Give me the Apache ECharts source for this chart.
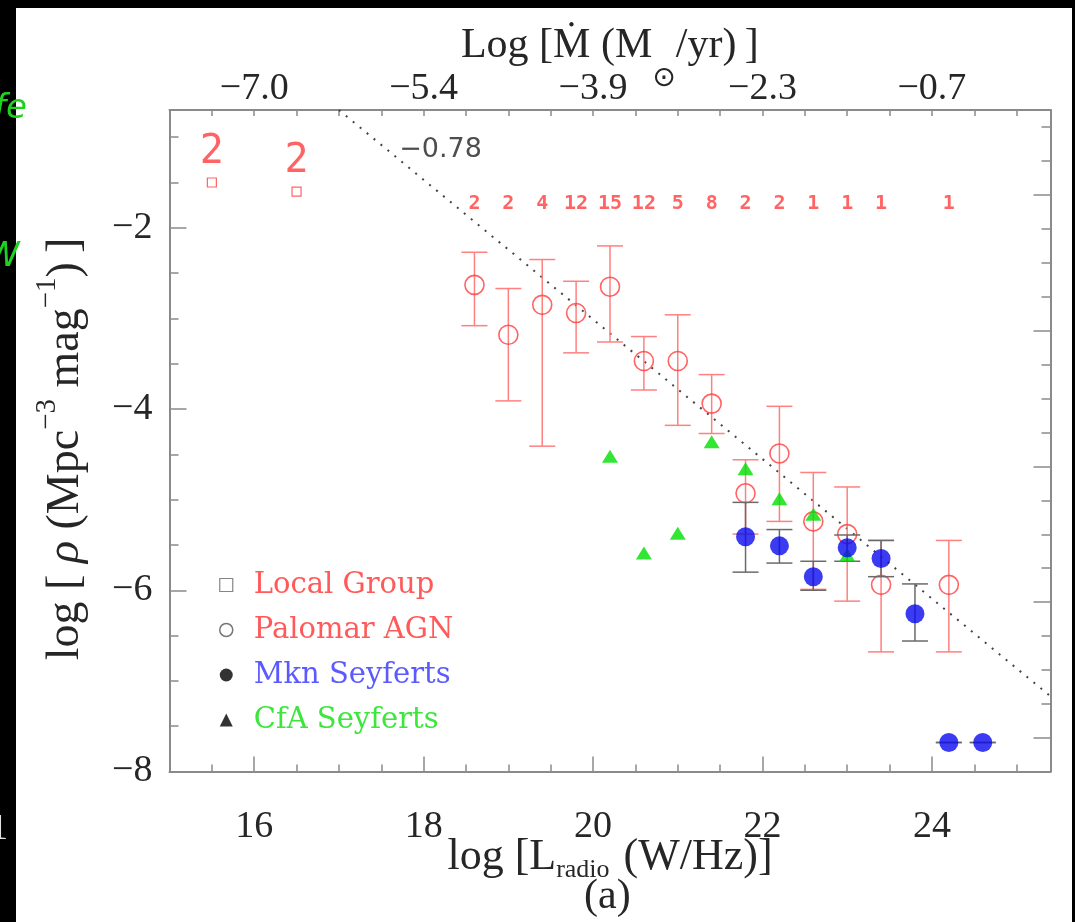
<!DOCTYPE html>
<html><head><meta charset="utf-8">
<script src="https://cdn.jsdelivr.net/npm/echarts@6/dist/echarts.min.js"></script>
<style>html,body{margin:0;padding:0;background:#000;}#c{width:1075px;height:922px;}</style>
</head><body><div id="c"></div>
<script>
// ---------- data ----------
const localX = [15.5, 16.5];
const localY = [-1.50, -1.60];
const localN = [2, 2];

const palomarX  = [18.6, 19.0, 19.4, 19.8, 20.2, 20.6, 21.0, 21.4, 21.8, 22.2, 22.6, 23.0, 23.4, 24.2];
const palomarY  = [-2.63, -3.18, -2.85, -2.94, -2.65, -3.47, -3.47, -3.94, -4.93, -4.49, -5.24, -5.38, -5.94, -5.94];
const palomarLo = [-3.08, -3.91, -4.41, -3.38, -3.26, -3.79, -4.18, -4.27, -5.38, -5.24, -5.99, -6.12, -6.68, -6.68];
const palomarHi = [-2.27, -2.67, -2.35, -2.59, -2.20, -3.20, -2.96, -3.62, -4.56, -3.97, -4.70, -4.86, -5.45, -5.45];
const palomarN  = [2, 2, 4, 12, 15, 12, 5, 8, 2, 2, 1, 1, 1, 1];

const mknX  = [21.8, 22.2, 22.6, 23.0, 23.4, 23.8, 24.2, 24.6];
const mknY  = [-5.41, -5.51, -5.85, -5.53, -5.65, -6.26, -7.68, -7.68];
const mknLo = [-5.80, -5.70, -6.00, -5.68, -5.85, -6.56, -7.68, -7.68];
const mknHi = [-5.03, -5.33, -5.68, -5.39, -5.45, -5.93, -7.68, -7.68];

const cfaX = [20.2, 20.6, 21.0, 21.4, 21.8, 22.2, 22.6, 23.0];
const cfaY = [-4.52, -5.59, -5.37, -4.36, -4.66, -4.99, -5.16, -5.61];

const fitX = [17.0, 25.4];
const fitY = [-0.70, -7.17];
const fitSlopeText = '\u22120.78';
const slopeLabelX = 18.2, slopeLabelY = -1.14;
const countRowY = -1.73;

// tick labels
const bottomTicks = [16, 18, 20, 22, 24];
const topTickLabels = ['\u22127.0', '\u22125.4', '\u22123.9', '\u22122.3', '\u22120.7'];
const leftTicks = [-8, -6, -4, -2];
const leftTickLabels = ['\u22128', '\u22126', '\u22124', '\u22122'];
// right-hand frame ticks (unlabelled secondary scale)
const rightTickStart = -7.632, rightTickStep = 0.375;

// ---------- helpers ----------
const X_MIN = 15, X_MAX = 25.4, Y_MIN = -8, Y_MAX = -0.7;
const rightMinor = [], rightMajor = [];
for (let k = 0; rightTickStart + k * rightTickStep <= Y_MAX; k++) {
  const v = +(rightTickStart + k * rightTickStep).toFixed(4);
  (k % 4 === 0 ? rightMajor : rightMinor).push(v);
}
const zip = (...arrs) => arrs[0].map((_, i) => arrs.map(a => a[i]));

const axisGray = '#8a8a8a';
const txt = '#262626';
const serif = 'Liberation Serif';
const RED = '#ff3c3c', RED_BAR = '#ff8080', RED_TXT = '#ff5a5a';
const BLUE = '#0a0aee', BLUE_TXT = '#5a5aff';
const GREEN = '#00e000', GREEN_TXT = '#3ce63c';
const BAR_BLACK = '#6a6a6a';

function errorBars(color, capHalf, width) {
  return function (params, api) {
    const x = api.value(0), lo = api.value(1), hi = api.value(2);
    const a = api.coord([x, hi]), b = api.coord([x, lo]);
    const st = { stroke: color, lineWidth: width };
    return { type: 'group', children: [
      { type: 'line', shape: { x1: a[0], y1: a[1], x2: b[0], y2: b[1] }, style: st },
      { type: 'line', shape: { x1: a[0] - capHalf, y1: a[1], x2: a[0] + capHalf, y2: a[1] }, style: st },
      { type: 'line', shape: { x1: b[0] - capHalf, y1: b[1], x2: b[0] + capHalf, y2: b[1] }, style: st }
    ]};
  };
}

const chart = echarts.init(document.getElementById('c'));
const tickLbl = { fontFamily: serif, fontSize: 38, color: txt };
const NAME_FS = 44;

const option = {
  backgroundColor: '#000',
  animation: false,
  graphic: [
    { type: 'rect', z: -10, shape: { x: 16, y: 8, width: 1056, height: 914 }, style: { fill: '#fff' } },
    { type: 'text', z: -9, left: -6, top: 92, style: { text: 'fe', fill: '#1fd21f', font: 'italic 34px DejaVu Sans' } },
    { type: 'text', z: -9, left: -14, top: 240, style: { text: 'W', fill: '#1fd21f', font: 'italic 34px DejaVu Sans' } },
    { type: 'text', z: -9, left: -10, top: 812, style: { text: '1', fill: '#e0e0e0', font: '36px Liberation Serif' } },
    { type: 'text', left: 584, top: 876, style: { text: '(a)', fill: txt, font: '42px Liberation Serif' } }
  ],
  grid: { left: 169.5, right: 24.5, top: 110, bottom: 150.5, containLabel: false, outerBoundsMode: 'none' },
  legend: {
    orient: 'vertical', left: 214, top: 564, itemWidth: 13, itemHeight: 13, itemGap: 13,
    selectedMode: false,
    textStyle: { fontFamily: 'DejaVu Serif', fontSize: 29, lineHeight: 32, padding: [0, 0, 0, 16] },
    data: [
      { name: 'Local Group', icon: 'rect', itemStyle: { color: '#fff', borderColor: '#666', borderWidth: 1.2 }, textStyle: { color: RED_TXT } },
      { name: 'Palomar AGN', icon: 'circle', itemStyle: { color: '#fff', borderColor: '#555', borderWidth: 1.5 }, textStyle: { color: RED_TXT } },
      { name: 'Mkn Seyferts', icon: 'circle', itemStyle: { color: '#000', borderWidth: 0 }, textStyle: { color: BLUE_TXT } },
      { name: 'CfA Seyferts', icon: 'triangle', itemStyle: { color: '#000', borderWidth: 0 }, textStyle: { color: GREEN_TXT } }
    ]
  },
  xAxis: [
    { type: 'value', min: X_MIN, max: X_MAX, interval: 0.5, position: 'bottom',
      axisLine: { show: true, onZero: false, lineStyle: { color: axisGray, width: 2 } },
      axisTick: { show: true, inside: true, length: 7, lineStyle: { color: axisGray, width: 1.5 } },
      axisLabel: { show: false }, splitLine: { show: false } },
    { type: 'value', min: X_MIN, max: X_MAX, position: 'bottom',
      axisLine: { show: false, onZero: false },
      axisTick: { show: true, inside: true, length: 15, customValues: bottomTicks, lineStyle: { color: axisGray, width: 1.5 } },
      axisLabel: { show: true, customValues: bottomTicks, margin: 37, formatter: v => String(v), ...tickLbl },
      splitLine: { show: false },
      name: '{t|log [L}{s|radio}{t| (W/Hz)]}', nameLocation: 'middle', nameGap: 64, nameMoveOverlap: false,
      nameTextStyle: { rich: {
        t: { fontFamily: serif, fontSize: NAME_FS, color: txt, lineHeight: 48, verticalAlign: 'top' },
        s: { fontFamily: serif, fontSize: 26, color: txt, lineHeight: 26, verticalAlign: 'bottom', padding: [0, 3, 0, 0] } } } },
    { type: 'value', min: X_MIN, max: X_MAX, interval: 0.5, position: 'top',
      axisLine: { show: true, onZero: false, lineStyle: { color: axisGray, width: 2 } },
      axisTick: { show: true, inside: true, length: 6, lineStyle: { color: axisGray, width: 1.5 } },
      axisLabel: { show: true, customValues: bottomTicks, margin: 2,
        formatter: v => topTickLabels[bottomTicks.indexOf(v)], ...tickLbl },
      splitLine: { show: false },
      name: '{t|Log [\u1E40 (M}{s|\u2299}{t|/yr)\u2009]}{g| }', nameLocation: 'middle', nameGap: 17, nameMoveOverlap: false,
      nameTextStyle: { rich: {
        t: { fontFamily: serif, fontSize: 42, color: txt, lineHeight: 46, verticalAlign: 'top' },
        s: { fontFamily: 'DejaVu Sans', fontSize: 28, color: txt, lineHeight: 26, verticalAlign: 'bottom' },
        g: { fontSize: 1, lineHeight: 68 } } } }
  ],
  yAxis: [
    { type: 'value', min: Y_MIN, max: Y_MAX, interval: 0.5, position: 'left',
      axisLine: { show: true, onZero: false, lineStyle: { color: axisGray, width: 2 } },
      axisTick: { show: true, inside: true, length: 9, lineStyle: { color: axisGray, width: 1.5 } },
      axisLabel: { show: false }, splitLine: { show: false } },
    { type: 'value', min: Y_MIN, max: Y_MAX, position: 'left',
      axisLine: { show: false, onZero: false },
      axisTick: { show: true, inside: true, length: 17, customValues: leftTicks, lineStyle: { color: axisGray, width: 1.5 } },
      axisLabel: { show: true, customValues: leftTicks, margin: 17,
        formatter: v => leftTickLabels[leftTicks.indexOf(v)], ...tickLbl },
      splitLine: { show: false },
      name: '{t|log [ }{i|\u03C1}{t| (Mpc}{p|\u22123}{t| mag}{p|\u22121}{t|)\u2009]}{g| }', nameLocation: 'middle', nameGap: 81, nameRotate: 90, nameMoveOverlap: false,
      nameTextStyle: { rich: {
        t: { fontFamily: serif, fontSize: 46, color: txt, lineHeight: 48, verticalAlign: 'bottom' },
        i: { fontFamily: serif, fontStyle: 'italic', fontSize: 46, color: txt, lineHeight: 48, verticalAlign: 'bottom' },
        p: { fontFamily: serif, fontSize: 29, color: txt, lineHeight: 26, verticalAlign: 'top' },
        g: { fontSize: 1, lineHeight: 56, padding: [0, 0, 0, 16] } } } },
    { type: 'value', min: Y_MIN, max: Y_MAX, position: 'right',
      axisLine: { show: true, onZero: false, lineStyle: { color: axisGray, width: 2 } },
      axisTick: { show: true, inside: true, length: 9, customValues: rightMinor, lineStyle: { color: axisGray, width: 1.5 } },
      axisLabel: { show: false }, splitLine: { show: false } },
    { type: 'value', min: Y_MIN, max: Y_MAX, position: 'right',
      axisLine: { show: false, onZero: false },
      axisTick: { show: true, inside: true, length: 17, customValues: rightMajor, lineStyle: { color: axisGray, width: 1.5 } },
      axisLabel: { show: false }, splitLine: { show: false } }
  ],
  series: [
    { name: 'fit', type: 'line', xAxisIndex: 0, yAxisIndex: 0, data: zip(fitX, fitY), showSymbol: false, symbol: 'none',
      lineStyle: { color: '#444', width: 2, type: [2, 7] }, z: 1, silent: true },
    { name: 'slope', type: 'scatter', xAxisIndex: 0, yAxisIndex: 0, data: [[slopeLabelX, slopeLabelY]], symbolSize: 1,
      itemStyle: { color: 'rgba(0,0,0,0)' },
      label: { show: true, position: 'inside', formatter: fitSlopeText, fontFamily: 'DejaVu Sans', fontSize: 27, color: '#222' } },
    { name: 'counts', type: 'scatter', xAxisIndex: 0, yAxisIndex: 0, data: palomarX.map(x => [x, countRowY]), symbolSize: 1,
      itemStyle: { color: 'rgba(0,0,0,0)' },
      label: { show: true, position: 'inside', formatter: p => String(palomarN[p.dataIndex]),
        fontFamily: 'DejaVu Sans Mono', fontWeight: 'bold', fontSize: 20, color: RED } },
    { name: 'Local Group', type: 'scatter', xAxisIndex: 0, yAxisIndex: 0, data: zip(localX, localY), symbol: 'rect', symbolSize: 9,
      itemStyle: { color: 'rgba(0,0,0,0)', borderColor: RED, borderWidth: 1.2 },
      label: { show: true, position: 'top', distance: 5, formatter: p => String(localN[p.dataIndex]),
        fontFamily: 'DejaVu Sans Mono', fontSize: 40, color: RED } },
    { name: 'palomarErr', type: 'custom', xAxisIndex: 0, yAxisIndex: 0, renderItem: errorBars(RED_BAR, 13, 1.5),
      data: zip(palomarX, palomarLo, palomarHi), encode: { x: 0, y: [1, 2] }, z: 2 },
    { name: 'Palomar AGN', type: 'scatter', xAxisIndex: 0, yAxisIndex: 0, data: zip(palomarX, palomarY), symbol: 'circle', symbolSize: 19,
      itemStyle: { color: 'rgba(0,0,0,0)', borderColor: RED, borderWidth: 1.6 }, z: 3 },
    { name: 'mknErr', type: 'custom', xAxisIndex: 0, yAxisIndex: 0, renderItem: errorBars(BAR_BLACK, 13, 1.5),
      data: zip(mknX, mknLo, mknHi), encode: { x: 0, y: [1, 2] }, z: 4 },
    { name: 'CfA Seyferts', type: 'scatter', xAxisIndex: 0, yAxisIndex: 0, data: zip(cfaX, cfaY), symbol: 'triangle', symbolSize: [16, 13],
      itemStyle: { color: GREEN }, z: 5 },
    { name: 'Mkn Seyferts', type: 'scatter', xAxisIndex: 0, yAxisIndex: 0, data: zip(mknX, mknY), symbol: 'circle', symbolSize: 19,
      itemStyle: { color: BLUE }, z: 6 }
  ]
};
chart.setOption(option);
</script></body></html>
